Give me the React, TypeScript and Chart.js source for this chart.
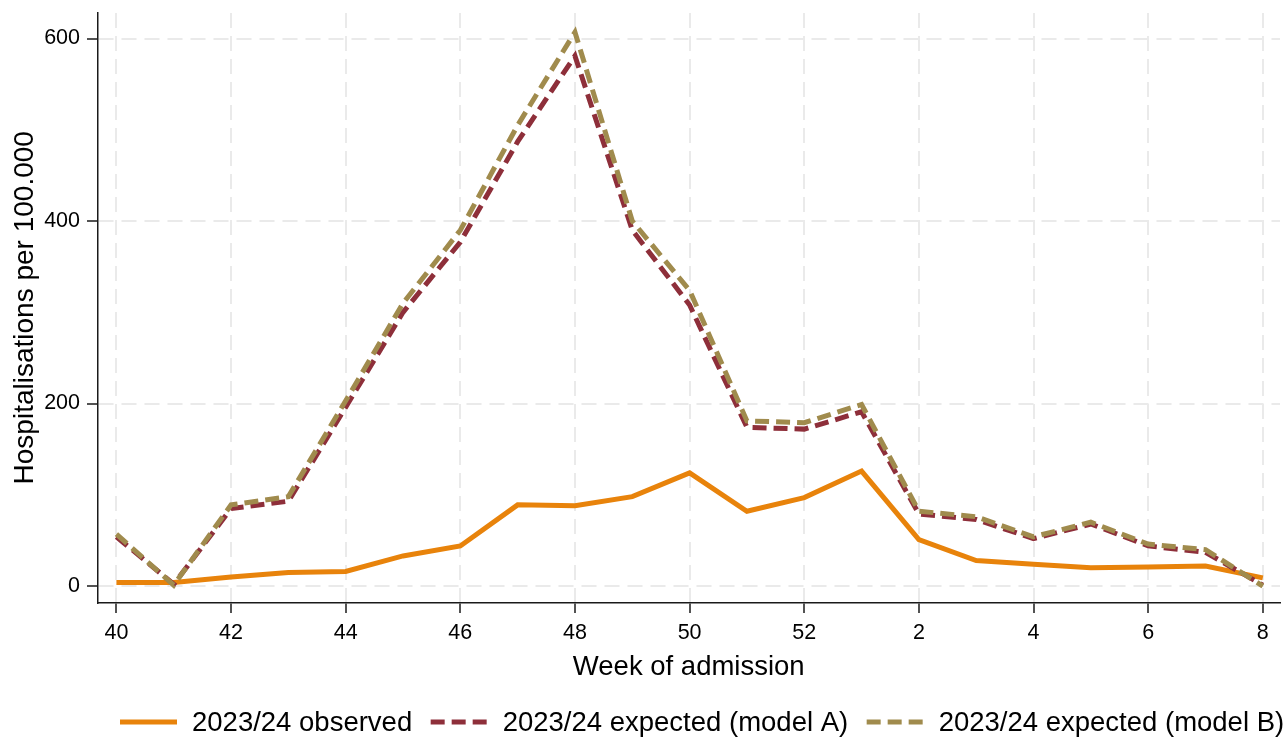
import React, { useEffect, useRef } from "react";
import { Chart, registerables } from "chart.js";

Chart.register(...registerables);

// ---- Data ----
const weekLabels = [
  "40", "41", "42", "43", "44", "45", "46", "47", "48", "49", "50", "51", "52",
  "1", "2", "3", "4", "5", "6", "7", "8",
];
const observed = [4, 4, 10, 15, 16, 33, 44, 89, 88, 98, 124, 82, 97, 126, 51, 28, 24, 20, 21, 22, 9];
const modelA = [54, 2, 85, 93, 196, 300, 377, 487, 581, 390, 308, 174, 172, 191, 79, 73, 52, 68, 44, 37, 1];
const modelB = [57, 1, 89, 98, 203, 310, 390, 505, 607, 400, 324, 181, 179, 199, 82, 76, 54, 70, 46, 40, 0];
const yTickValues = [0, 200, 400, 600];
const xTickIndices = [0, 2, 4, 6, 8, 10, 12, 14, 16, 18, 20];
const seriesNames = [
  "2023/24 observed",
  "2023/24 expected (model A)",
  "2023/24 expected (model B)",
];
const xTitle = "Week of admission";
const yTitle = "Hospitalisations per 100.000";

const COLOR_OBS = "#E8830B";
const COLOR_A = "#8E2F3A";
const COLOR_B = "#A08B4D";
const FONT = "'Liberation Sans', Arial, Helvetica, sans-serif";
const AXIS = "#1a1a1a";
const GRID = "#EAEAEA";
const DASH = [14, 7];

const legendPlugin = {
  id: "bottomLegend",
  afterDraw(chart: any) {
    const ctx = chart.ctx;
    const y = 722;
    let x = 120;
    const sample = 57;
    const gapText = 15;
    const gapItem = 18.5;
    ctx.save();
    ctx.font = `27.5px ${FONT}`;
    ctx.textBaseline = "middle";
    ctx.textAlign = "left";
    chart.data.datasets.forEach((ds: any) => {
      ctx.beginPath();
      ctx.lineWidth = 5;
      ctx.lineCap = "butt";
      ctx.strokeStyle = ds.borderColor;
      ctx.setLineDash(ds.borderDash || []);
      ctx.moveTo(x, y);
      ctx.lineTo(x + sample, y);
      ctx.stroke();
      ctx.setLineDash([]);
      x += sample + gapText;
      ctx.fillStyle = "#000";
      ctx.fillText(ds.label, x, y + 1);
      x += ctx.measureText(ds.label).width + gapItem;
    });
    ctx.restore();
  },
};

export default function App() {
  const ref = useRef<HTMLCanvasElement | null>(null);

  useEffect(() => {
    if (!ref.current) return;
    const toXY = (arr: number[]) => arr.map((v, i) => ({ x: i, y: v }));
    const chart = new Chart(ref.current, {
      type: "line",
      data: {
        datasets: [
          {
            label: seriesNames[0],
            data: toXY(observed),
            borderColor: COLOR_OBS,
            backgroundColor: COLOR_OBS,
            borderWidth: 5,
            pointRadius: 0,
            tension: 0,
            order: 3,
          },
          {
            label: seriesNames[1],
            data: toXY(modelA),
            borderColor: COLOR_A,
            backgroundColor: COLOR_A,
            borderWidth: 5,
            borderDash: DASH,
            pointRadius: 0,
            tension: 0,
            order: 2,
          },
          {
            label: seriesNames[2],
            data: toXY(modelB),
            borderColor: COLOR_B,
            backgroundColor: COLOR_B,
            borderWidth: 5,
            borderDash: DASH,
            pointRadius: 0,
            tension: 0,
            order: 1,
          },
        ],
      },
      options: {
        animation: false,
        responsive: false,
        maintainAspectRatio: false,
        devicePixelRatio: 1,
        layout: { padding: { left: 0, right: 5, top: 13, bottom: 48 } },
        plugins: {
          legend: { display: false },
          tooltip: { enabled: false },
        },
        scales: {
          x: {
            type: "linear",
            min: -0.33,
            max: 20.3,
            afterBuildTicks: (scale: any) => {
              scale.ticks = xTickIndices.map((v) => ({ value: v }));
            },
            afterFit: (scale: any) => {
              scale.height = 86.5;
              scale.paddingLeft = 0;
              scale.paddingRight = 0;
            },
            ticks: {
              autoSkip: false,
              maxRotation: 0,
              padding: 7,
              color: "#000",
              font: { family: FONT, size: 21.5 },
              callback: (v: any) => weekLabels[Number(v)] ?? "",
            },
            grid: {
              color: GRID,
              lineWidth: 2,
              drawTicks: true,
              tickLength: 10.5,
              tickColor: AXIS,
              tickWidth: 1.5,
              tickBorderDash: [],
            },
            border: { display: true, color: AXIS, width: 1.5, dash: [15, 8] },
            title: {
              display: true,
              text: xTitle,
              color: "#000",
              font: { family: FONT, size: 27.5 },
              padding: { top: 0, bottom: 4.7 },
            },
          },
          y: {
            type: "linear",
            min: -18,
            max: 628,
            afterBuildTicks: (scale: any) => {
              scale.ticks = yTickValues.map((v) => ({ value: v }));
            },
            afterFit: (scale: any) => {
              scale.width = 97.5;
              scale.paddingTop = 0;
              scale.paddingBottom = 0;
            },
            ticks: {
              padding: 7,
              color: "#000",
              font: { family: FONT, size: 21.5 },
              callback: (v: any) => String(v),
            },
            grid: {
              color: GRID,
              lineWidth: 2,
              drawTicks: true,
              tickLength: 10.5,
              tickColor: AXIS,
              tickWidth: 1.5,
              tickBorderDash: [],
            },
            border: { display: true, color: AXIS, width: 1.5, dash: [15, 8] },
            title: {
              display: true,
              text: yTitle,
              color: "#000",
              font: { family: FONT, size: 28 },
              padding: { top: 8, bottom: 0 },
            },
          },
        },
      },
      plugins: [legendPlugin],
    } as any);
    return () => chart.destroy();
  }, []);

  return (
    <div
      style={{
        position: "absolute",
        left: 0,
        top: 0,
        width: 1285,
        height: 737,
        background: "#fff",
      }}
    >
      <canvas ref={ref} width={1285} height={737} style={{ width: 1285, height: 737, display: "block" }} />
    </div>
  );
}
